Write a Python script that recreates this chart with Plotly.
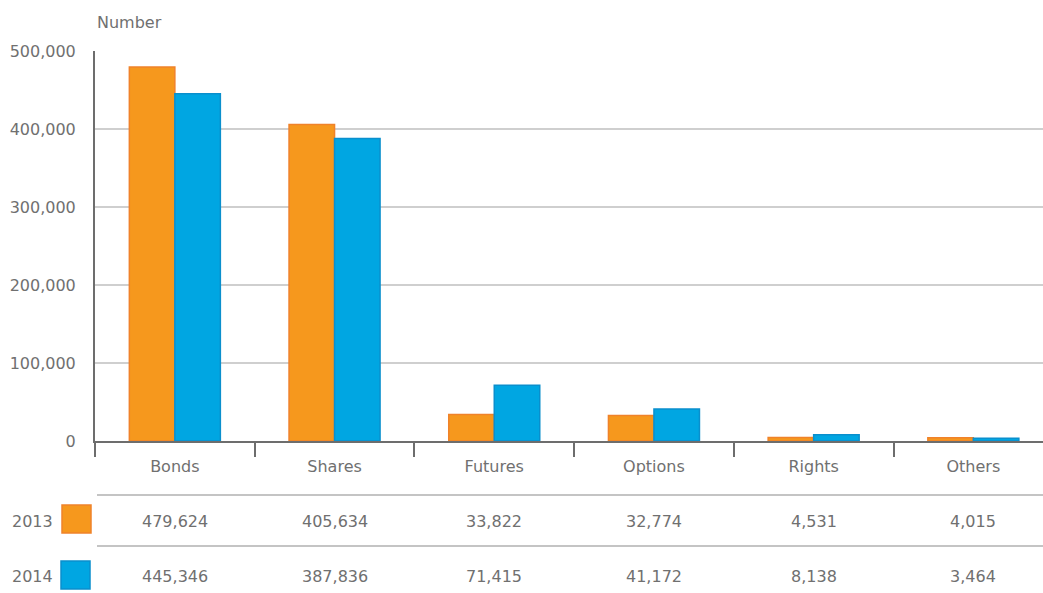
import plotly.graph_objects as go

categories = ["Bonds", "Shares", "Futures", "Options", "Rights", "Others"]
years = ["2013", "2014"]
values_2013 = [479624, 405634, 33822, 32774, 4531, 4015]
values_2014 = [445346, 387836, 71415, 41172, 8138, 3464]
y_ticks = [0, 100000, 200000, 300000, 400000, 500000]
y_ticktext = ["0", "100,000", "200,000", "300,000", "400,000", "500,000"]

FONT = "DejaVu Sans"
TXT = "#707070"
ORANGE = "#F6981D"
ORANGE_LINE = "#F0822A"
BLUE = "#00A6E2"
BLUE_LINE = "#0A8FCD"

W, H = 1043, 593
L, T, B = 95, 51, 152
plot_h = H - T - B  # 390
plot_w = W - L


def py(pix_y):
    return (H - B - pix_y) / plot_h


def px(pix_x):
    return (pix_x - L) / plot_w


fig = go.Figure()
fig.add_trace(go.Bar(x=categories, y=values_2013, name=years[0],
                     marker=dict(color=ORANGE, line=dict(color=ORANGE_LINE, width=1.5))))
fig.add_trace(go.Bar(x=categories, y=values_2014, name=years[1],
                     marker=dict(color=BLUE, line=dict(color=BLUE_LINE, width=1.5))))

shapes = []
annotations = []

# table separator lines
for yy in [495, 546]:
    shapes.append(dict(type="line", xref="paper", yref="paper", x0=px(97), x1=1,
                       y0=py(yy), y1=py(yy), line=dict(color="#c4c4c4", width=2)))

# legend squares
sq = [(ORANGE, ORANGE_LINE, 505, 533, 62, 91), (BLUE, BLUE_LINE, 561, 589, 61, 90)]
for col, lc, y0, y1, x0, x1 in sq:
    shapes.append(dict(type="rect", xref="paper", yref="paper", x0=px(x0), x1=px(x1),
                       y0=py(y1), y1=py(y0), fillcolor=col, line=dict(color=lc, width=1.5)))

rows = [(years[0], values_2013, 521), (years[1], values_2014, 576)]
for label, vals, yy in rows:
    annotations.append(dict(text=label, xref="paper", yref="paper", x=px(32), y=py(yy),
                            xanchor="center", yanchor="middle", showarrow=False,
                            font=dict(family=FONT, size=16, color=TXT)))
    for c, v in zip(categories, vals):
        annotations.append(dict(text=f"{v:,}", xref="x", yref="paper", x=c, y=py(yy),
                                xanchor="center", yanchor="middle", showarrow=False,
                                font=dict(family=FONT, size=16, color=TXT)))

annotations.append(dict(text="Number", xref="paper", yref="paper", x=0, y=py(22),
                        xanchor="left", yanchor="middle", showarrow=False,
                        font=dict(family=FONT, size=16, color=TXT)))

fig.update_layout(
    width=W, height=H,
    margin=dict(l=L, r=0, t=T, b=B),
    paper_bgcolor="white", plot_bgcolor="white",
    barmode="group", bargap=0.43, bargroupgap=0,
    showlegend=False,
    font=dict(family=FONT, size=16, color=TXT),
    shapes=shapes, annotations=annotations,
    xaxis=dict(range=[-0.5, -0.5 + plot_w / 159.7], tickson="boundaries",
               ticks="outside", ticklen=14, tickwidth=2, tickcolor="#6d6d6d",
               ticklabelstandoff=10,
               showline=True, linecolor="#6d6d6d", linewidth=2,
               showgrid=False, tickfont=dict(family=FONT, size=16, color=TXT)),
    yaxis=dict(range=[0, 500000], tickvals=y_ticks, ticktext=y_ticktext,
               showline=True, linecolor="#6d6d6d", linewidth=2,
               showgrid=True, gridcolor="#cfcfcf", gridwidth=1.5,
               zeroline=False, ticks="", ticklabelstandoff=14,
               tickfont=dict(family=FONT, size=16, color=TXT)),
)

fig.write_html("out.html", config={"displayModeBar": False},
               post_script="document.body.style.margin='0';document.body.style.overflow='hidden';")
